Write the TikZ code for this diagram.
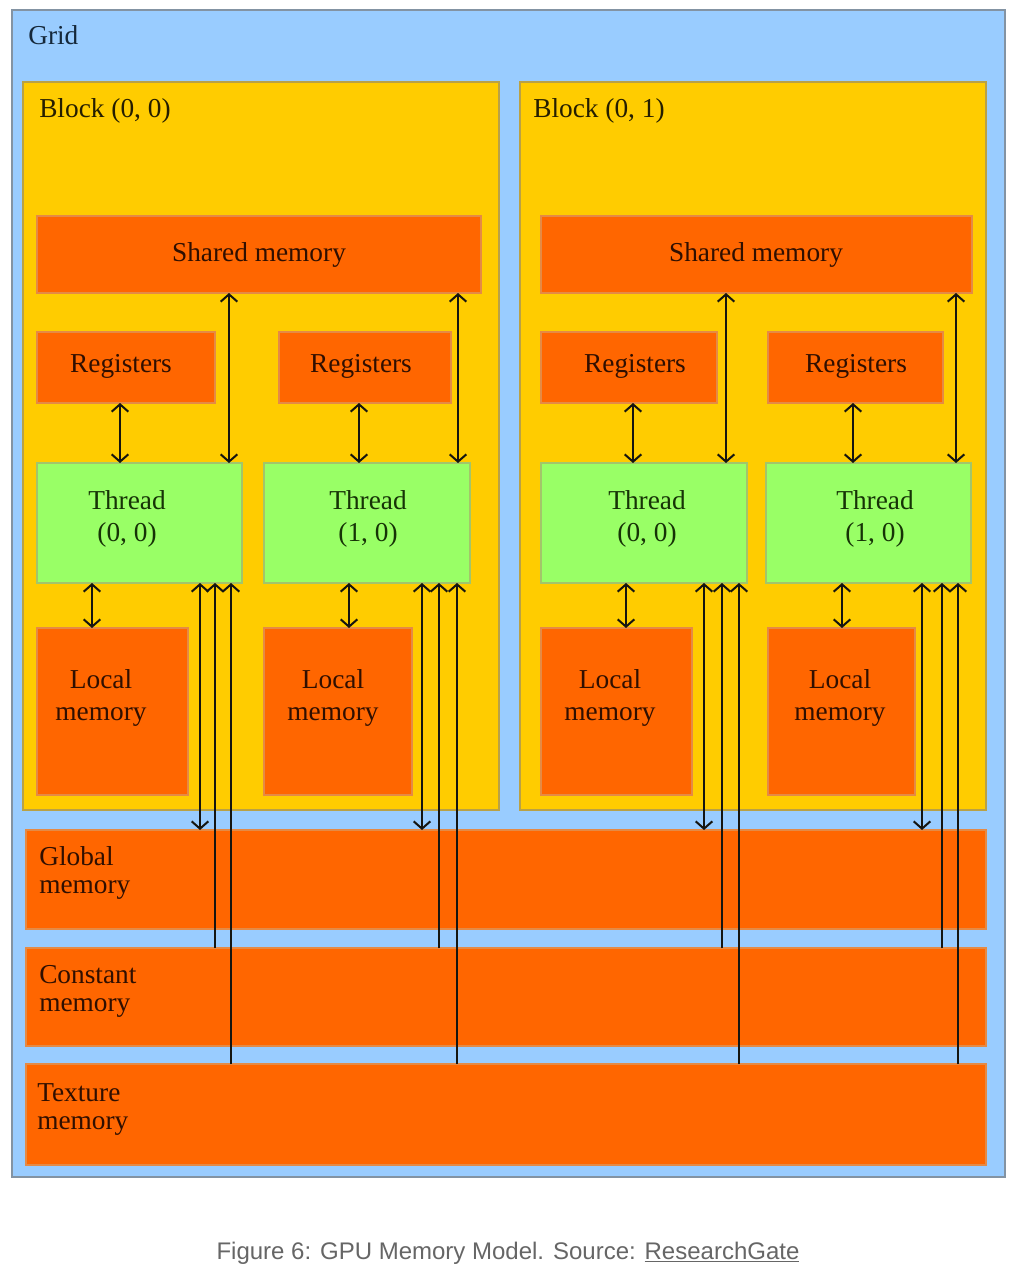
\documentclass[tikz,border=0pt]{standalone}
\usepackage{fontspec}
\setmainfont{Liberation Serif}
\newfontfamily\capfont{Liberation Sans}
\usetikzlibrary{arrows.meta}
\definecolor{gridblue}{HTML}{99CCFF}
\definecolor{gridedge}{HTML}{8393A3}
\definecolor{blockyellow}{HTML}{FFCC00}
\definecolor{blockedge}{HTML}{B9A145}
\definecolor{memorange}{HTML}{FF6600}
\definecolor{memedge}{HTML}{E58A45}
\definecolor{thrgreen}{HTML}{99FF66}
\definecolor{thredge}{HTML}{A3C56A}
\definecolor{txtorange}{HTML}{300F00}
\definecolor{txtgreen}{HTML}{163306}
\definecolor{txtblue}{HTML}{15283A}
\definecolor{txtyellow}{HTML}{251E00}
\definecolor{arrowdark}{HTML}{151510}
\definecolor{capgray}{HTML}{666666}
\newcommand\mybox[7]{\node[bx,#6,minimum width={(#4-#2)*0.75pt},minimum height={(#5-#3)*0.75pt}] (#1) at ({(#2+#4)/2},{(#3+#5)/2}) {#7};}
\begin{document}
\begin{tikzpicture}[x=0.75pt,y=-0.75pt,
  bx/.style={rectangle, inner sep=0pt, outer sep=0pt, line width=0.9pt},
  gridbox/.style={fill=gridblue, draw=gridedge},
  blockbox/.style={fill=blockyellow, draw=blockedge},
  membox/.style={fill=memorange, draw=memedge},
  thrbox/.style={fill=thrgreen, draw=thredge},
  lbl/.style={inner sep=0pt, font=\fontsize{20.5}{24}\selectfont},
  orangelbl/.style={lbl, text=txtorange, align=center},
  greenlbl/.style={lbl, text=txtgreen, align=center},
  barlbl/.style={lbl, text=txtorange, align=left, anchor=west, font=\fontsize{20.5}{21}\selectfont},
  arr/.style={line width=1.5pt, draw=arrowdark},
  >={Straight Barb[length=5.5pt,width=12.5pt]}]
\useasboundingbox[fill=white] (0,0) rectangle (1015,1280);
% grid and blocks
\mybox{grid}{12}{10}{1005}{1177}{gridbox}{}
\node[lbl, text=txtblue, anchor=base west] (gridlbl) at (28,45) {Grid};
\mybox{blk0}{23}{82}{499}{810}{blockbox}{}
\mybox{blk1}{520}{82}{986}{810}{blockbox}{}
\node[lbl, text=txtyellow, anchor=base west] (blk0lbl) at (39,118) {Block (0, 0)};
\node[lbl, text=txtyellow, anchor=base west] (blk1lbl) at (533,118) {Block (0, 1)};
% shared memory
\mybox{sh0}{37}{216}{481}{293}{membox}{}
\mybox{sh1}{541}{216}{972}{293}{membox}{}
\node[orangelbl] (sh0lbl) at (259,255) {Shared memory};
\node[orangelbl] (sh1lbl) at (756,255) {Shared memory};
% registers
\mybox{reg00}{37}{332}{215}{403}{membox}{}
\mybox{reg01}{279}{332}{451}{403}{membox}{}
\mybox{reg10}{541}{332}{717}{403}{membox}{}
\mybox{reg11}{768}{332}{943}{403}{membox}{}
\node[orangelbl] (reg00lbl) at (121,366) {Registers};
\node[orangelbl] (reg01lbl) at (361,366) {Registers};
\node[orangelbl] (reg10lbl) at (635,366) {Registers};
\node[orangelbl] (reg11lbl) at (856,366) {Registers};
% threads
\mybox{thr00}{37}{463}{242}{583}{thrbox}{}
\mybox{thr01}{264}{463}{470}{583}{thrbox}{}
\mybox{thr10}{541}{463}{747}{583}{thrbox}{}
\mybox{thr11}{766}{463}{971}{583}{thrbox}{}
\node[greenlbl] (thr00lbl) at (127,519) {Thread\\(0, 0)};
\node[greenlbl] (thr01lbl) at (368,519) {Thread\\(1, 0)};
\node[greenlbl] (thr10lbl) at (647,519) {Thread\\(0, 0)};
\node[greenlbl] (thr11lbl) at (875,519) {Thread\\(1, 0)};
% local memory
\mybox{loc00}{37}{628}{188}{795}{membox}{}
\mybox{loc01}{264}{628}{412}{795}{membox}{}
\mybox{loc10}{541}{628}{692}{795}{membox}{}
\mybox{loc11}{768}{628}{915}{795}{membox}{}
\node[orangelbl] (loc00lbl) at (101,698) {Local\\memory};
\node[orangelbl] (loc01lbl) at (333,698) {Local\\memory};
\node[orangelbl] (loc10lbl) at (610,698) {Local\\memory};
\node[orangelbl] (loc11lbl) at (840,698) {Local\\memory};
% global / constant / texture
\mybox{glob}{26}{830}{986}{929}{membox}{}
\mybox{const}{26}{948}{986}{1046}{membox}{}
\mybox{tex}{26}{1064}{986}{1165}{membox}{}
\node[barlbl] (globlbl) at (39,873) {Global\\memory};
\node[barlbl] (constlbl) at (39,991) {Constant\\memory};
\node[barlbl] (texlbl) at (37,1109) {Texture\\memory};
% connectors
\foreach \b/\t/\xr/\xs/\xl/\xg/\xc/\xt in {0/0/120/229/92/200/215/231, 0/1/359/458/349/422/439/457, 1/0/633/726/626/704/722/739, 1/1/853/956/842/922/942/958}{
  \coordinate (cr\b\t) at (\xr,0);
  \coordinate (cs\b\t) at (\xs,0);
  \coordinate (cl\b\t) at (\xl,0);
  \coordinate (cg\b\t) at (\xg,0);
  \coordinate (cc\b\t) at (\xc,0);
  \coordinate (ct\b\t) at (\xt,0);
  \draw[arr,<->] (reg\b\t.south -| cr\b\t) -- (thr\b\t.north -| cr\b\t);
  \draw[arr,<->] (sh\b.south -| cs\b\t) -- (thr\b\t.north -| cs\b\t);
  \draw[arr,<->] (thr\b\t.south -| cl\b\t) -- (loc\b\t.north -| cl\b\t);
  \draw[arr,<->] (thr\b\t.south -| cg\b\t) -- (glob.north -| cg\b\t);
  \draw[arr,->] (const.north -| cc\b\t) -- (thr\b\t.south -| cc\b\t);
  \draw[arr,->] (tex.north -| ct\b\t) -- (thr\b\t.south -| ct\b\t);
}
% caption
\node[inner sep=0pt, font=\capfont\fontsize{18}{22}\selectfont, text=capgray] (cap) at (508,1253) {Figure 6: GPU Memory Model. Source: \underline{ResearchGate}};
\end{tikzpicture}
\end{document}
